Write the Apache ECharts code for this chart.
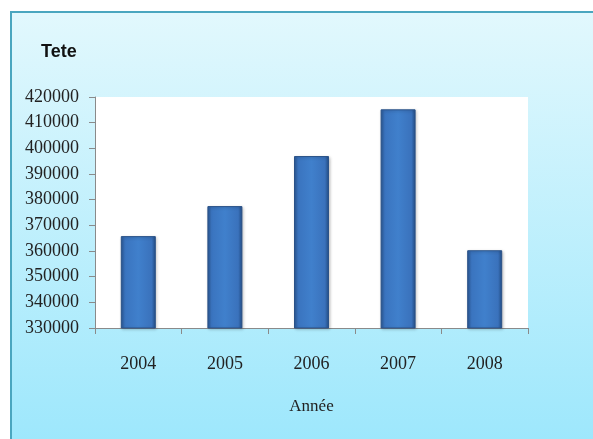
<!DOCTYPE html>
<html><head><meta charset="utf-8">
<script src="https://cdn.jsdelivr.net/npm/echarts@6/dist/echarts.min.js"></script>
<style>html,body{margin:0;padding:0;background:#fff}#c{width:593px;height:439px}</style>
</head><body><div id="c"></div>
<script>
const categories = ['2004', '2005', '2006', '2007', '2008'];
const values = [365800, 377500, 397000, 415200, 360300];
const yTicks = [330000, 340000, 350000, 360000, 370000, 380000, 390000, 400000, 410000, 420000];

const chart = echarts.init(document.getElementById('c'));
chart.setOption({
  animation: false,
  graphic: [
    { type: 'rect', z: -10, shape: { x: 10, y: 11, width: 590, height: 440 },
      style: { fill: new echarts.graphic.LinearGradient(0, 0, 0, 1, [
        { offset: 0, color: '#e2f8fd' }, { offset: 1, color: '#9ce7fc' }]) } },
    { type: 'rect', z: -9, shape: { x: 10, y: 11, width: 590, height: 2 }, style: { fill: '#4aa6bf' } },
    { type: 'rect', z: -9, shape: { x: 10, y: 11, width: 2, height: 430 }, style: { fill: '#4aa6bf' } }
  ],
  title: { text: 'Tete', left: 36, top: 38,
    textStyle: { fontFamily: 'Liberation Sans', fontWeight: 'bold', fontSize: 18, color: '#111' } },
  grid: { left: 95, right: 65, top: 97, bottom: 111, show: true, backgroundColor: '#fff', borderWidth: 0 },
  xAxis: {
    type: 'category', data: categories,
    name: 'Année', nameLocation: 'middle', nameGap: 70,
    nameTextStyle: { fontFamily: 'Liberation Serif', fontSize: 17, color: '#222' },
    axisLine: { lineStyle: { color: '#8a8a8a' } },
    axisTick: { show: true, length: 6, lineStyle: { color: '#8a8a8a' } },
    axisLabel: { margin: 27, fontFamily: 'Liberation Serif', fontSize: 18, color: '#222' }
  },
  yAxis: {
    type: 'value', min: 330000, max: 420000, interval: 10000,
    axisLine: { show: true, lineStyle: { color: '#8a8a8a' } },
    axisTick: { show: true, length: 6, lineStyle: { color: '#8a8a8a' } },
    splitLine: { show: false },
    axisLabel: { margin: 16, fontFamily: 'Liberation Serif', fontSize: 18, color: '#222',
      formatter: v => yTicks.includes(v) ? String(v) : '' }
  },
  series: [{
    type: 'bar', data: values, barWidth: 35,
    itemStyle: {
      color: new echarts.graphic.LinearGradient(0, 0, 1, 0, [
        { offset: 0, color: '#2c5a98' },
        { offset: 0.12, color: '#3a74bf' },
        { offset: 0.5, color: '#4080cc' },
        { offset: 0.88, color: '#3a72bc' },
        { offset: 1, color: '#234d85' }]),
      borderColor: '#2a5288', borderWidth: 1,
      shadowColor: 'rgba(0,0,0,0.25)', shadowBlur: 3, shadowOffsetX: 1, shadowOffsetY: 1
    }
  }]
});
</script></body></html>
